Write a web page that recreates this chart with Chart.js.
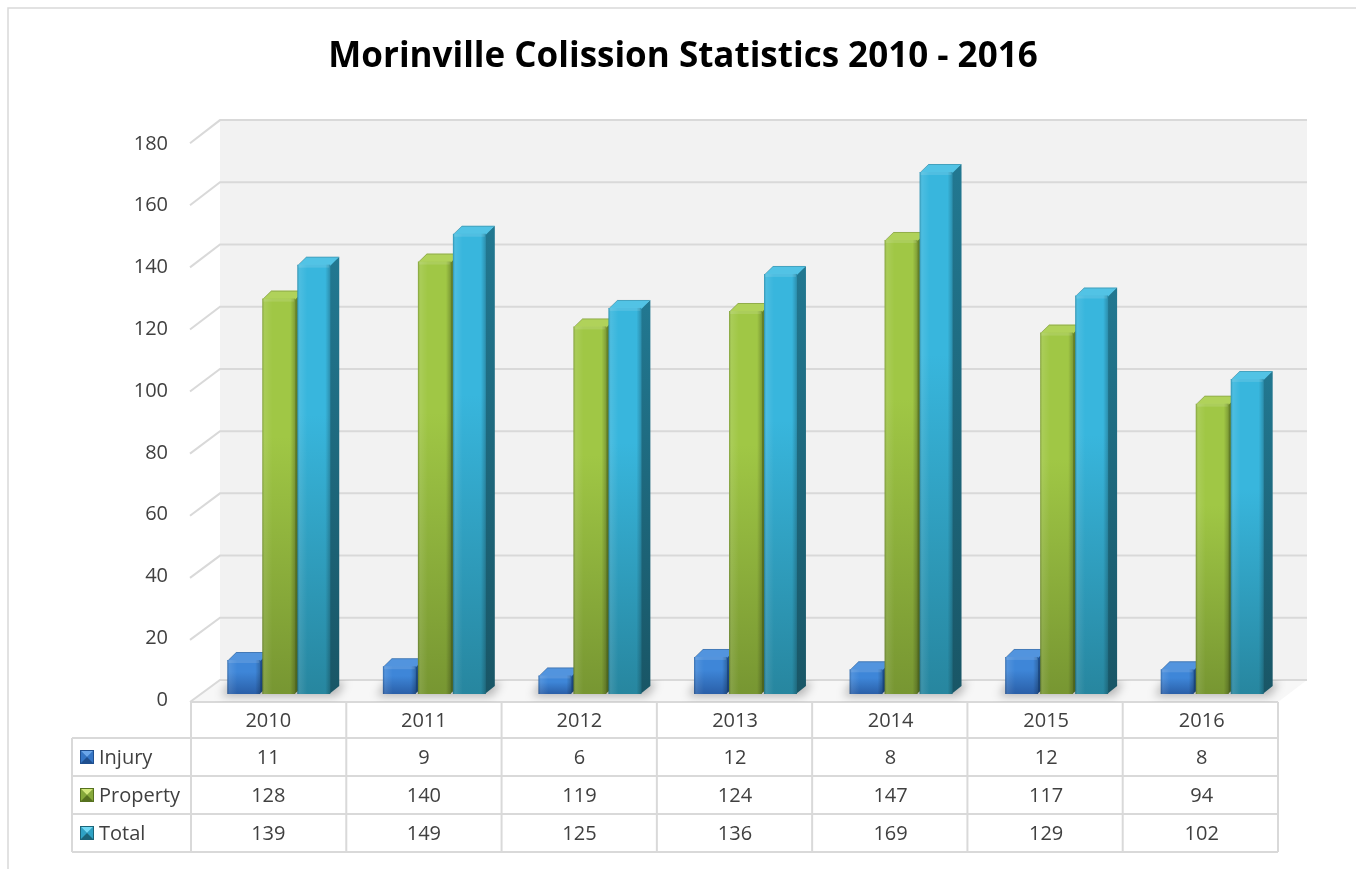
<!DOCTYPE html>
<html>
<head>
<meta charset="utf-8">
<title>Morinville Colission Statistics 2010 - 2016</title>
<script src="https://cdn.jsdelivr.net/npm/chart.js@4.4.1/dist/chart.umd.min.js"></script>
<style>
  html, body { margin: 0; padding: 0; background: #fff; }
  #wrap { width: 1356px; height: 869px; position: relative; }
</style>
</head>
<body>
<div id="wrap"><canvas id="chart" width="1356" height="869"></canvas></div>
<script>
'use strict';

// ---- data ----
const TITLE = 'Morinville Colission Statistics 2010 - 2016';
const YEARS = ['2010', '2011', '2012', '2013', '2014', '2015', '2016'];
const INJURY = [11, 9, 6, 12, 8, 12, 8];
const PROPERTY = [128, 140, 119, 124, 147, 117, 94];
const TOTAL = [139, 149, 125, 136, 169, 129, 102];
const SERIES_NAMES = ['Injury', 'Property', 'Total'];
const Y_MIN = 0;
const Y_MAX = 180;
const Y_STEP = 20;

// ---- look ----
const FONT = '"Open Sans", "Noto Sans", "Liberation Sans", sans-serif';
const TEXT = '#404040';
const LINE = '#d9d9d9';
const DX = 9;   // bar depth, x
const DY = 8;   // bar depth, y

const PALETTES = [
  { front: ['#3e86d8', '#2a5fa8'], side: ['#1f5294', '#173e72'], cap: '#5294de', keyDark: '#1f4f8f', keyMid: '#3576c6', keyLight: '#6aa6ea' },
  { front: ['#a0c745', '#779632'], side: ['#66832a', '#4c641f'], cap: '#b0d25a', keyDark: '#56711f', keyMid: '#86a93a', keyLight: '#d2e87a' },
  { front: ['#38b6dd', '#27869f'], side: ['#227891', '#195666'], cap: '#52c3e5', keyDark: '#1b6478', keyMid: '#2fa2c4', keyLight: '#6fd8f4' },
];

function barFill(pal) {
  return (ctx) => {
    const chart = ctx.chart;
    const ys = chart.scales && chart.scales.y;
    if (!chart.chartArea || !ys || ctx.type !== 'data') return pal.front[1];
    const top = ys.getPixelForValue(ctx.raw);
    const bot = ys.getPixelForValue(0);
    if (!isFinite(top) || !isFinite(bot) || bot - top < 1) return pal.front[1];
    const g = chart.ctx.createLinearGradient(0, top, 0, bot);
    g.addColorStop(0, pal.front[0]);
    g.addColorStop(0.35, pal.front[0]);
    g.addColorStop(1, pal.front[1]);
    return g;
  };
}

// geometry of the 3D box, derived from the chart's own scales
function frame(chart) {
  const a = chart.chartArea;
  const ys = chart.scales.y;
  const y0 = ys.getPixelForValue(0);
  return {
    frontL: a.left - 10, frontR: a.right - 12,
    backL: a.left + 19, backR: a.right + 17,
    backY: (v) => 680 + (ys.getPixelForValue(v) - y0) * 1.007,
    frontY: (v) => 702 + (ys.getPixelForValue(v) - y0) * 1.005,
  };
}

function poly(ctx, pts) {
  ctx.beginPath();
  ctx.moveTo(pts[0][0], pts[0][1]);
  for (let i = 1; i < pts.length; i++) ctx.lineTo(pts[i][0], pts[i][1]);
  ctx.closePath();
}

function drawKey(ctx, x, y, s, pal) {
  const c = [x + s / 2, y + s / 2];
  ctx.fillStyle = pal.keyDark;
  ctx.fillRect(x, y, s, s);
  ctx.fillStyle = pal.keyMid;
  poly(ctx, [[x + 1, y + 1], c, [x + 1, y + s - 1]]); ctx.fill();
  poly(ctx, [[x + s - 1, y + 1], c, [x + s - 1, y + s - 1]]); ctx.fill();
  ctx.fillStyle = pal.keyLight;
  poly(ctx, [[x + 1, y + 1], [x + s - 1, y + 1], c]); ctx.fill();
}

const backdrop = {
  id: 'backdrop',
  beforeDraw(chart) {
    const ctx = chart.ctx;
    const f = frame(chart);
    const xs = chart.scales.x;
    ctx.save();
    ctx.fillStyle = '#fff';
    ctx.fillRect(0, 0, chart.width, chart.height);

    // outer frame
    ctx.strokeStyle = LINE;
    ctx.lineWidth = 1.5;
    ctx.beginPath();
    ctx.moveTo(8, chart.height); ctx.lineTo(8, 8); ctx.lineTo(chart.width, 8);
    ctx.stroke();

    // title
    ctx.fillStyle = '#000';
    ctx.font = 'bold 35px ' + FONT;
    ctx.textAlign = 'center';
    ctx.textBaseline = 'alphabetic';
    ctx.fillText(TITLE, 683, 67);

    // back wall
    const top = f.backY(Y_MAX), bottom = f.backY(0);
    ctx.fillStyle = '#f2f2f2';
    ctx.fillRect(f.backL, top, f.backR - f.backL, bottom - top);

    // floor
    ctx.fillStyle = '#f7f7f7';
    poly(ctx, [[f.frontL, f.frontY(0)], [f.frontR, f.frontY(0)], [f.backR, bottom], [f.backL, bottom]]);
    ctx.fill();

    // gridlines + side wall diagonals
    ctx.strokeStyle = LINE;
    ctx.lineWidth = 2;
    for (let v = Y_MIN; v <= Y_MAX; v += Y_STEP) {
      const by = f.backY(v), fy = f.frontY(v);
      ctx.beginPath();
      ctx.moveTo(f.frontL - 1, fy);
      ctx.lineTo(f.backL, by);
      ctx.lineTo(f.backR, by);
      ctx.stroke();
    }

    // data table
    const n = YEARS.length;
    const colW = (f.frontR - f.frontL) / n;
    const rowH = [36, 38, 38, 38];
    const rowTop = [f.frontY(0)];
    for (let i = 0; i < rowH.length; i++) rowTop.push(rowTop[i] + rowH[i]);
    const legL = 72;
    ctx.lineWidth = 2;
    ctx.strokeStyle = LINE;
    ctx.beginPath();
    ctx.moveTo(f.frontL, rowTop[0]); ctx.lineTo(f.frontR, rowTop[0]);
    for (let r = 1; r < rowTop.length; r++) {
      ctx.moveTo(legL, rowTop[r]); ctx.lineTo(f.frontR, rowTop[r]);
    }
    ctx.moveTo(legL, rowTop[1]); ctx.lineTo(legL, rowTop[4]);
    for (let j = 0; j <= n; j++) {
      const x = f.frontL + j * colW;
      ctx.moveTo(x, rowTop[0]); ctx.lineTo(x, rowTop[4]);
    }
    ctx.stroke();

    ctx.fillStyle = TEXT;
    ctx.font = '20px ' + FONT;
    ctx.textAlign = 'center';
    ctx.textBaseline = 'middle';
    const rows = [INJURY, PROPERTY, TOTAL];
    YEARS.forEach((yr, j) => {
      const cx = xs.getPixelForValue(j) - 10.5;
      ctx.fillText(yr, cx, rowTop[0] + rowH[0] / 2 + 1);
      rows.forEach((vals, r) => {
        ctx.fillText(String(vals[j]), cx, rowTop[r + 1] + rowH[r + 1] / 2 + 1);
      });
    });
    ctx.textAlign = 'left';
    SERIES_NAMES.forEach((name, r) => {
      const cy = rowTop[r + 1] + rowH[r + 1] / 2;
      drawKey(ctx, 80, cy - 7, 14, PALETTES[r]);
      ctx.fillStyle = TEXT;
      ctx.fillText(name, 99, cy + 1);
    });
    ctx.restore();
  },

  beforeDatasetsDraw(chart) {
    const ctx = chart.ctx;
    const f = frame(chart);
    const metas = chart.data.datasets.map((_, i) => chart.getDatasetMeta(i));
    ctx.save();

    // soft floor shadow under each group
    poly(ctx, [[f.frontL, f.frontY(0)], [f.frontR, f.frontY(0)], [f.backR, f.backY(0)], [f.backL, f.backY(0)]]);
    ctx.clip();
    ctx.filter = 'blur(5px)';
    ctx.fillStyle = 'rgba(0,0,0,0.28)';
    YEARS.forEach((_, j) => {
      const first = metas[0].data[j].getProps(['x', 'base', 'width'], true);
      const last = metas[metas.length - 1].data[j].getProps(['x', 'base', 'width'], true);
      const l = first.x - first.width / 2 - 6;
      const r = last.x + last.width / 2 + DX + 6;
      poly(ctx, [[l, first.base + 2], [r - DX, first.base + 2], [r, first.base - DY - 4], [l + DX, first.base - DY - 4]]);
      ctx.fill();
    });
    ctx.restore();

    // side and top faces, left to right
    ctx.save();
    YEARS.forEach((_, j) => {
      metas.forEach((meta, i) => {
        const pal = PALETTES[i];
        const b = meta.data[j].getProps(['x', 'y', 'base', 'width'], true);
        const l = b.x - b.width / 2, r = b.x + b.width / 2;
        const g = ctx.createLinearGradient(0, b.y - DY, 0, b.base);
        g.addColorStop(0, pal.side[0]);
        g.addColorStop(1, pal.side[1]);
        ctx.fillStyle = g;
        poly(ctx, [[r - 1, b.y], [r + DX, b.y - DY], [r + DX, b.base - DY], [r - 1, b.base]]);
        ctx.fill();
        ctx.fillStyle = pal.cap;
        poly(ctx, [[l, b.y + 1], [l + DX, b.y - DY], [r + DX, b.y - DY], [r, b.y + 1]]);
        ctx.fill();
        ctx.strokeStyle = 'rgba(0,0,0,0.18)';
        ctx.lineWidth = 1;
        ctx.beginPath();
        ctx.moveTo(l + 1, b.y);
        ctx.lineTo(l + DX, b.y - DY + 0.5);
        ctx.lineTo(r + DX - 0.5, b.y - DY + 0.5);
        ctx.stroke();
      });
    });
    ctx.restore();
  },

  afterDatasetsDraw(chart) {
    // bevel shading on the front faces
    const ctx = chart.ctx;
    ctx.save();
    chart.data.datasets.forEach((_, i) => {
      chart.getDatasetMeta(i).data.forEach((el) => {
        const b = el.getProps(['x', 'y', 'base', 'width'], true);
        const l = b.x - b.width / 2, w = b.width;
        const g = ctx.createLinearGradient(l, 0, l + w, 0);
        g.addColorStop(0, 'rgba(0,0,0,0.22)');
        g.addColorStop(0.07, 'rgba(255,255,255,0.10)');
        g.addColorStop(0.3, 'rgba(255,255,255,0)');
        g.addColorStop(0.85, 'rgba(0,0,0,0)');
        g.addColorStop(1, 'rgba(0,0,0,0.22)');
        ctx.fillStyle = g;
        ctx.fillRect(l, b.y, w, b.base - b.y);
        ctx.fillStyle = 'rgba(255,255,255,0.12)';
        ctx.fillRect(l + 1, b.y, w - 2, 3);
      });
    });
    ctx.restore();
  },
};

const datasets = [INJURY, PROPERTY, TOTAL].map((vals, i) => ({
  label: SERIES_NAMES[i],
  data: vals,
  backgroundColor: barFill(PALETTES[i]),
  borderWidth: 0,
  barPercentage: 0.94,
  categoryPercentage: 0.675,
}));

new Chart(document.getElementById('chart'), {
  type: 'bar',
  data: { labels: YEARS, datasets },
  options: {
    responsive: false,
    animation: false,
    events: [],
    layout: { padding: { left: 0, right: 66, top: 138, bottom: 175 } },
    plugins: {
      legend: { display: false },
      title: { display: false },
      tooltip: { enabled: false },
    },
    scales: {
      x: { display: false },
      y: {
        min: Y_MIN,
        max: Y_MAX,
        ticks: {
          stepSize: Y_STEP,
          padding: 33,
          labelOffset: 6,
          color: TEXT,
          font: { family: FONT, size: 20 },
        },
        grid: { display: false, drawTicks: false },
        border: { display: false },
        afterFit(scale) { scale.width = 201; },
      },
    },
  },
  plugins: [backdrop],
});
</script>
</body>
</html>
